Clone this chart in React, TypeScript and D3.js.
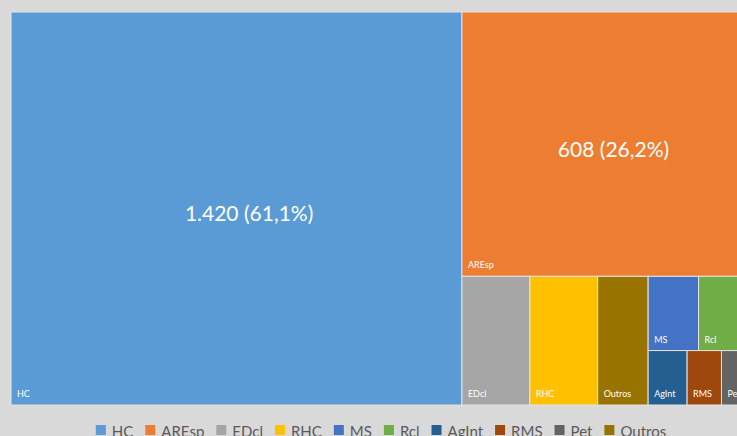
import React, { useEffect, useRef } from "react";
import * as d3 from "d3";

const categories = ["HC", "AREsp", "EDcl", "RHC", "MS", "Rcl", "AgInt", "RMS", "Pet", "Outros"];
const values = [1420, 608, 70, 70, 30, 30, 17, 15, 12, 52];
const colors = ["#5B9BD5", "#ED7D31", "#A5A5A5", "#FFC000", "#4472C4", "#70AD47", "#255E91", "#9E480E", "#636363", "#997300"];
// nesting of the tiles (slice/dice grouping as laid out in the reference)
const layoutTree: any = ["HC", ["AREsp", ["EDcl", "RHC", "Outros", [["MS", "Rcl"], ["AgInt", "RMS", "Pet"]]]]];

const W = 737;
const H = 436;
const PLOT = { x: 11, y: 12, w: 738, h: 393 };
const FONT = "Lato, 'Open Sans', sans-serif";

function build(node: any): any {
  if (typeof node === "string") {
    const i = categories.indexOf(node);
    return { name: node, value: values[i], color: colors[i] };
  }
  return { children: node.map(build) };
}

const fmtNum = (v: number) => d3.format(",")(v).replace(/,/g, ".");
const fmtPct = (v: number) => d3.format(".1f")(v * 100).replace(".", ",") + "%";

export default function App() {
  const ref = useRef<SVGSVGElement>(null);

  useEffect(() => {
    const svg = d3.select(ref.current);
    svg.selectAll("*").remove();
    svg.append("rect").attr("width", W).attr("height", H).attr("fill", "#D9D9D9");

    const total = d3.sum(values);
    const root = d3.hierarchy(build(layoutTree)).sum((d: any) => d.value || 0);
    d3.treemap().tile(d3.treemapSliceDice).size([PLOT.w, PLOT.h])(root as any);

    const g = svg.append("g").attr("transform", `translate(${PLOT.x},${PLOT.y})`);
    const leaves = root.leaves() as any[];
    const cell = g.selectAll("g.cell").data(leaves).join("g").attr("class", "cell");
    cell
      .append("rect")
      .attr("x", (d) => d.x0)
      .attr("y", (d) => d.y0)
      .attr("width", (d) => d.x1 - d.x0)
      .attr("height", (d) => d.y1 - d.y0)
      .attr("fill", (d) => d.data.color)
      .attr("stroke", "#E4E4E4")
      .attr("stroke-width", 1);
    cell
      .append("text")
      .attr("x", (d) => d.x0 + 6)
      .attr("y", (d) => d.y1 - 8)
      .attr("font-family", FONT)
      .attr("font-size", 9)
      .attr("fill", "#FFFFFF")
      .text((d) => d.data.name);
    cell
      .filter((d) => d.x1 - d.x0 > 120)
      .append("text")
      .attr("x", (d) => (d.x0 + d.x1) / 2 + (d.x1 - d.x0) * 0.028)
      .attr("y", (d) => (d.y0 + d.y1) / 2 + 4)
      .attr("text-anchor", "middle")
      .attr("dominant-baseline", "central")
      .attr("font-family", FONT)
      .attr("font-size", 21)
      .attr("fill", "#FFFFFF")
      .text((d) => `${fmtNum(d.data.value)} (${fmtPct(d.data.value / total)})`);

    // legend
    const lg = svg.append("g");
    const items = lg.selectAll("g.item").data(categories).join("g").attr("class", "item");
    items
      .append("rect")
      .attr("y", 425)
      .attr("width", 10)
      .attr("height", 10)
      .attr("fill", (_, i) => colors[i]);
    const texts = items
      .append("text")
      .attr("x", 16)
      .attr("y", 436.5)
      .attr("font-family", FONT)
      .attr("font-size", 15)
      .attr("fill", "#595959")
      .text((d) => d);
    const widths: number[] = [];
    texts.each(function () {
      widths.push((this as SVGTextElement).getComputedTextLength());
    });
    const gap = 12;
    const itemW = widths.map((w) => 16 + w);
    const totalW = d3.sum(itemW) + gap * (itemW.length - 1);
    const center = PLOT.x + PLOT.w / 2 + 1;
    let x = center - totalW / 2;
    items.attr("transform", (_, i) => {
      const t = `translate(${x},0)`;
      x += itemW[i] + gap;
      return t;
    });
  }, []);

  return (
    <svg
      ref={ref}
      width={W}
      height={H}
      style={{ position: "absolute", left: 0, top: 0, display: "block" }}
    />
  );
}
